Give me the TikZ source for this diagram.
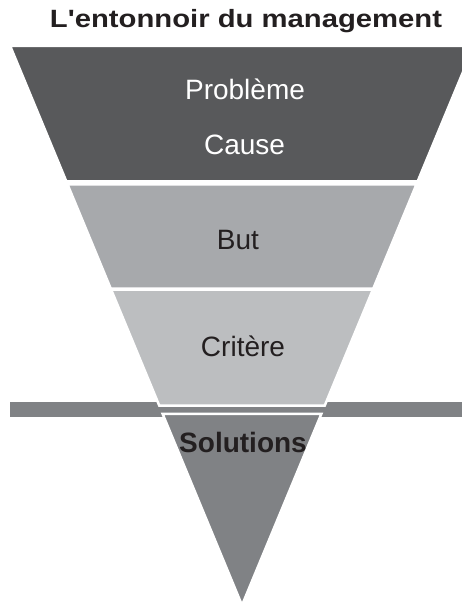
\documentclass[tikz,border=0pt]{standalone}
\usepackage{fontspec}
\setmainfont{Liberation Sans}
\usepackage{graphicx}
\definecolor{bandA}{HTML}{58595B}
\definecolor{bandB}{HTML}{A7A9AC}
\definecolor{bandC}{HTML}{BCBEC0}
\definecolor{bandD}{HTML}{808285}
\definecolor{ink}{HTML}{231F20}
\begin{document}
\begin{tikzpicture}[x={(1pt,0)},y={(0,-1pt)},
  band/.style={draw=white,line width=2.5pt,line join=miter},
  label/.style={anchor=base,inner sep=0pt,font=\fontsize{28}{30}\selectfont},
]
\useasboundingbox (0,0) rectangle (462,602);
\clip (0,0) rectangle (462,602);

% horizontal bar passing behind the funnel
\fill[bandD] (10,402.3) rectangle (470,417.3);

% funnel bands
\filldraw[band,fill=bandA] (10.2,46) -- (473.8,46) -- (417.7,181.3) -- (66.3,181.3) -- cycle;
\filldraw[band,fill=bandB] (67.5,184.3) -- (416.5,184.3) -- (373.3,288.5) -- (110.7,288.5) -- cycle;
\filldraw[band,fill=bandC] (111.1,289.5) -- (372.9,289.5) -- (324.7,405.7) -- (159.3,405.7) -- cycle;
\filldraw[band,fill=bandD] (162.6,413.8) -- (321.4,413.8) -- (242,605.3) -- cycle;

% title and labels
\node[anchor=base,inner sep=0pt,font=\fontsize{25}{27}\selectfont\bfseries,text=ink] (title) at (246,28) {\scalebox{1.17}[1]{L\textquotesingle entonnoir du management}};
\node[label,text=white] (probleme) at (245,99) {Problème};
\node[label,text=white] (cause) at (244.5,154) {Cause};
\node[label,text=ink] (but) at (238,249) {But};
\node[label,text=ink] (critere) at (243,356) {Critère};
\node[label,text=ink,font=\fontsize{28}{30}\selectfont\bfseries] (solutions) at (243,452) {Solutions};
\end{tikzpicture}
\end{document}
